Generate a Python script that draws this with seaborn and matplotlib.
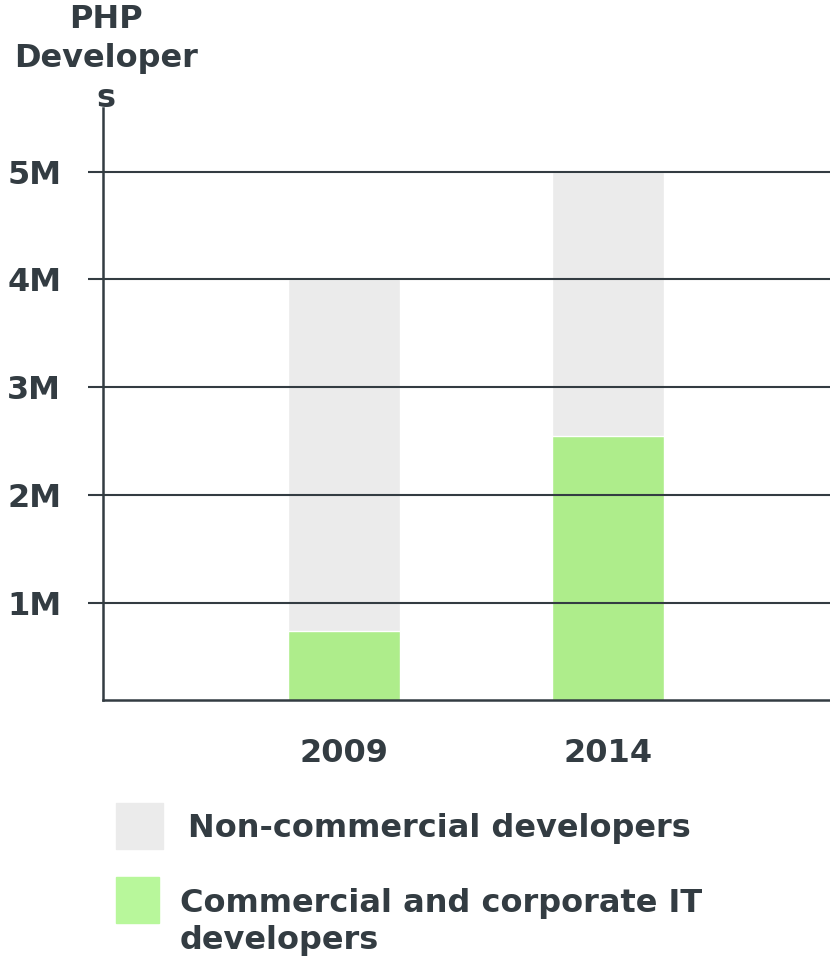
import matplotlib
matplotlib.use("Agg")
import matplotlib.pyplot as plt
import seaborn as sns
from matplotlib.patches import Rectangle

years = ["2009", "2014"]
total_devs = [4.0, 5.0]          # millions, all PHP developers
commercial_devs = [0.74, 2.55]   # millions, commercial and corporate IT
y_ticks = [1, 2, 3, 4, 5]
y_tick_labels = ["1M", "2M", "3M", "4M", "5M"]
legend_labels = ["Non-commercial developers", "Commercial and corporate IT\ndevelopers"]

grey = "#ebebeb"
green = "#aeed8b"
green_legend = "#b8f79b"
ink = "#333c42"
fs = 23

sns.set_theme(style="white")
plt.rcParams["font.family"] = ["DejaVu Sans"]

fig = plt.figure(figsize=(8.3, 9.56), dpi=100)
ax = fig.add_axes([103 / 830, 1 - 700 / 956, 1 - 103 / 830, (700 - 108) / 956])

sns.barplot(x=years, y=total_devs, color=grey, width=0.424, ax=ax, saturation=1, zorder=1)
sns.barplot(x=years, y=commercial_devs, color=green, width=0.424, ax=ax, saturation=1, zorder=2)

ax.set_xlim(-0.913, 1.84)
ax.set_ylim(0.1, 5.59)
ax.set_yticks(y_ticks)
ax.set_yticklabels(y_tick_labels)
ax.set_xlabel("")
ax.set_ylabel("")

for y in y_ticks:
    ax.axhline(y, color=ink, lw=1.5, zorder=3)

sns.despine(ax=ax, top=True, right=True)
for side in ["left", "bottom"]:
    ax.spines[side].set_color(ink)
    ax.spines[side].set_linewidth(1.8)
    ax.spines[side].set_zorder(4)

ax.tick_params(axis="y", length=11, width=1.5, color=ink, pad=19, direction="out", left=True)
ax.tick_params(axis="x", length=0, pad=27)
for lbl in ax.get_yticklabels() + ax.get_xticklabels():
    lbl.set_fontsize(fs)
    lbl.set_fontweight("bold")
    lbl.set_color(ink)

fig.text(106 / 830, 1 - 59 / 956, "PHP\nDeveloper\ns", ha="center", va="center",
         fontsize=fs, fontweight="bold", color=ink, linespacing=1.34)

# legend
fig.add_artist(Rectangle((116 / 830, 1 - 849 / 956), 47 / 830, 46 / 956,
                         transform=fig.transFigure, color=grey))
fig.add_artist(Rectangle((116 / 830, 1 - 923 / 956), 43 / 830, 46 / 956,
                         transform=fig.transFigure, color=green_legend))
fig.text(188 / 830, 1 - 828 / 956, legend_labels[0], ha="left", va="center",
         fontsize=fs, fontweight="bold", color=ink)
fig.text(180 / 830, 1 - 922 / 956, legend_labels[1], ha="left", va="center",
         fontsize=fs, fontweight="bold", color=ink, linespacing=1.25)

fig.savefig("out.png", dpi=100)
